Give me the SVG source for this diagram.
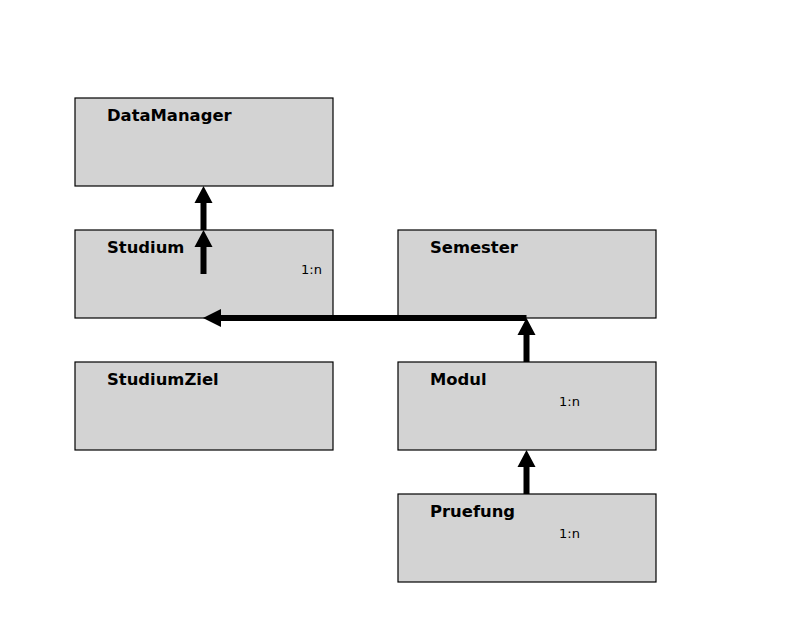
<svg xmlns="http://www.w3.org/2000/svg" width="794" height="636" viewBox="0 0 794 636">
<style>
.box{fill:#d3d3d3;stroke:#000;stroke-width:1.2}
.t{font-family:"DejaVu Sans",sans-serif;font-weight:bold;font-size:16.4px;fill:#000}
.m{font-family:"DejaVu Sans",sans-serif;font-size:13px;fill:#000}
.c{stroke:#000;stroke-width:6;fill:none}
.h{fill:#000}
</style>
<rect width="794" height="636" fill="#fff"/>
<g id="DataManager"><rect class="box" x="75" y="98" width="258" height="88"/><text class="t" x="107" y="121">DataManager</text></g>
<g id="Studium"><rect class="box" x="75" y="230" width="258" height="88"/><text class="t" x="107" y="253">Studium</text><text class="m" x="301" y="274">1:n</text></g>
<g id="StudiumZiel"><rect class="box" x="75" y="362" width="258" height="88"/><text class="t" x="107" y="385">StudiumZiel</text></g>
<g id="Semester"><rect class="box" x="398" y="230" width="258" height="88"/><text class="t" x="430" y="253">Semester</text></g>
<g id="Modul"><rect class="box" x="398" y="362" width="258" height="88"/><text class="t" x="430" y="385">Modul</text><text class="m" x="559" y="406">1:n</text></g>
<g id="Pruefung"><rect class="box" x="398" y="494" width="258" height="88"/><text class="t" x="430" y="517">Pruefung</text><text class="m" x="559" y="538">1:n</text></g>
<g id="connectors">
<path class="c" d="M203.5 274V246"/><polygon class="h" points="203.5,230 212.5,247 194.5,247"/>
<path class="c" d="M203.5 230V202"/><polygon class="h" points="203.5,186 212.5,203 194.5,203"/>
<path class="c" d="M526.5 318H219"/><polygon class="h" points="203,318 221,309 221,327"/>
<path class="c" d="M526.5 362V334"/><polygon class="h" points="526.5,318 535.5,335 517.5,335"/>
<path class="c" d="M526.5 494V466"/><polygon class="h" points="526.5,450 535.5,467 517.5,467"/>
</g>
</svg>
